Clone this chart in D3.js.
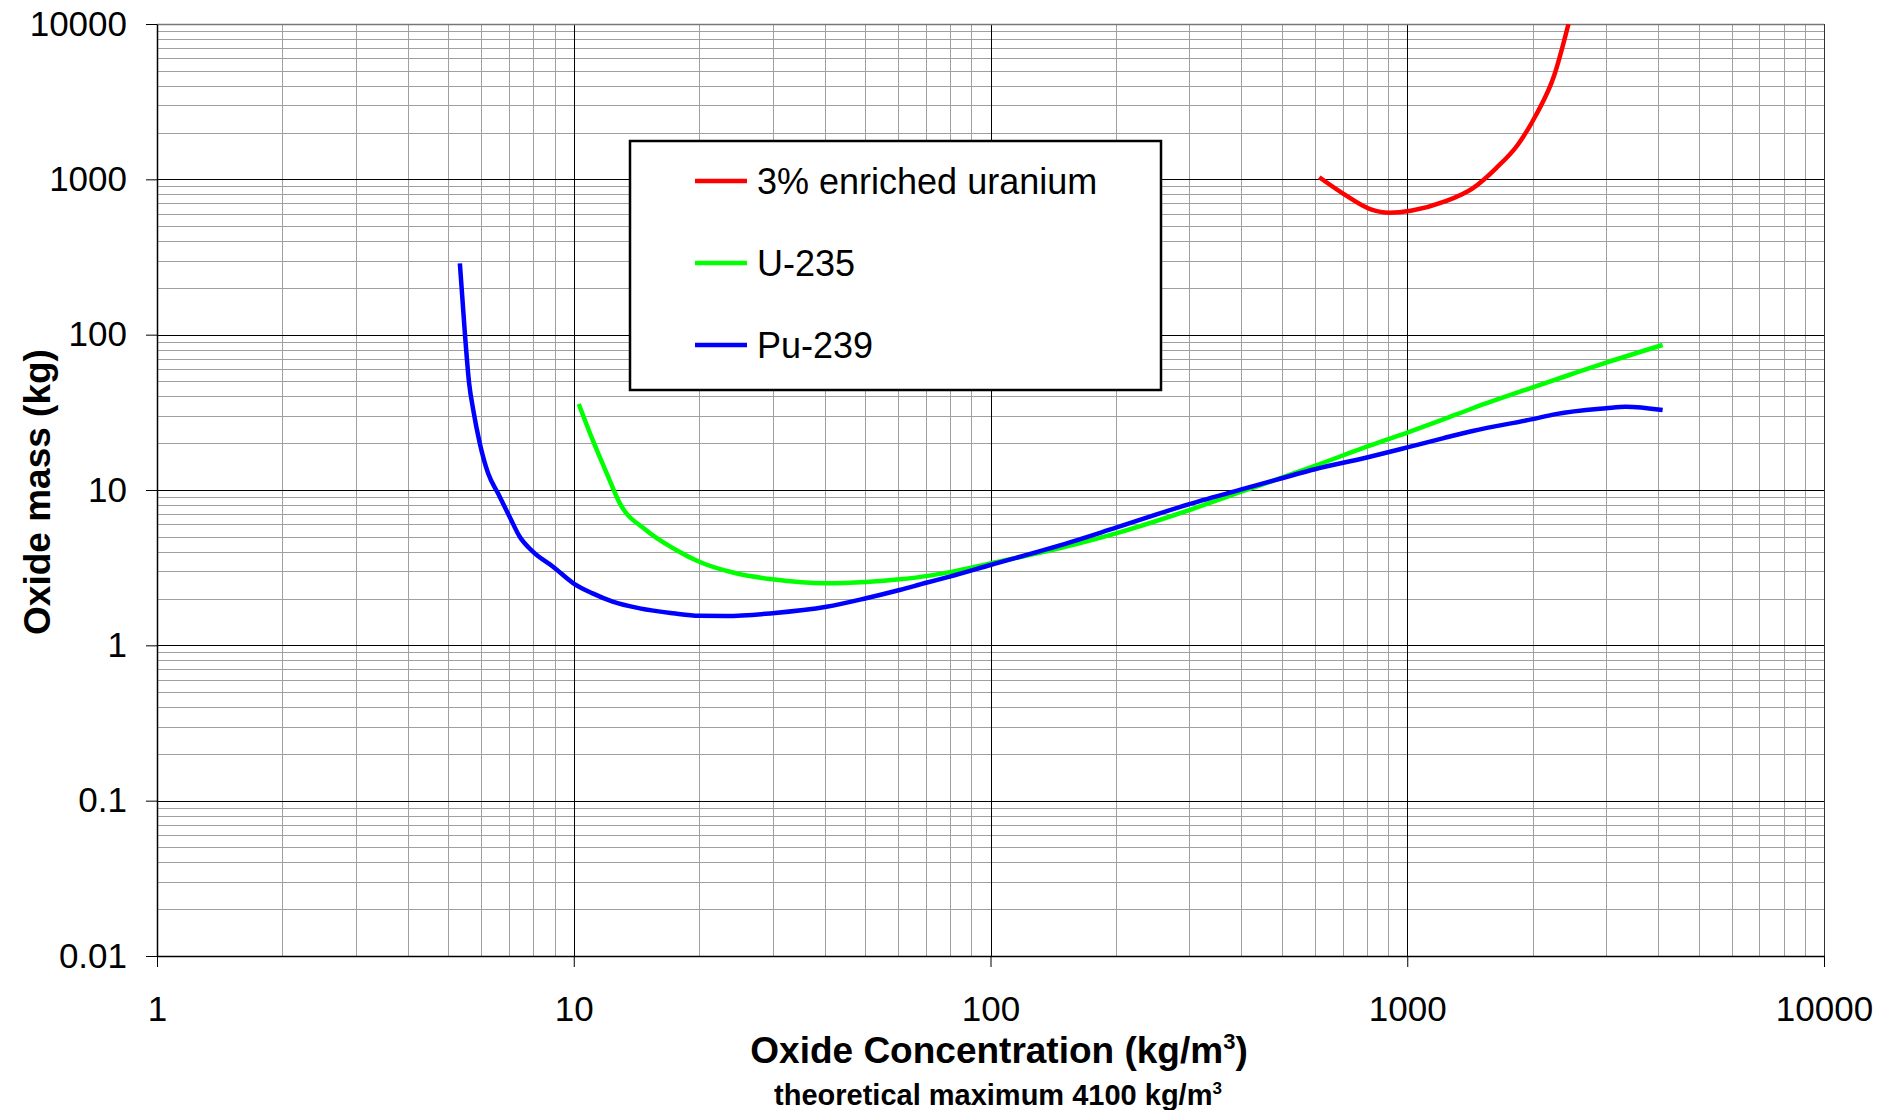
<!DOCTYPE html>
<html>
<head>
<meta charset="utf-8">
<script src="https://cdn.jsdelivr.net/npm/d3@7"></script>
<style>
  body { margin: 0; background: #fff; }
  text { font-family: "Liberation Sans", Arial, sans-serif; fill: #000; }
</style>
</head>
<body>
<svg id="chart" width="1895" height="1110"></svg>
<script>
// series: concentration (kg/m3) vs oxide mass (kg)
var seriesNames = ["3% enriched uranium", "U-235", "Pu-239"];
var seriesColors = ["#ff0000", "#00ff00", "#0000ff"];

var enrichedConc = [615, 700, 818, 905, 1020, 1227, 1435, 1633, 1840, 2037, 2254, 2437];
var enrichedMass = [1031, 813, 641, 610, 628, 718, 875, 1178, 1664, 2594, 4695, 10000];

var u235Conc = [10.28, 11.1, 12.0, 12.9, 14.9, 17.6, 20, 24.5, 30, 40.4, 50.3, 60.5, 70.1, 79.8, 100, 146, 200, 300, 400, 500, 600, 800, 1000, 1216, 1435, 2000, 2446, 3000, 4100];
var u235Mass = [35.8, 21, 12.8, 8.2, 5.52, 4.11, 3.45, 2.91, 2.66, 2.51, 2.56, 2.66, 2.79, 2.96, 3.37, 4.21, 5.26, 7.43, 9.75, 12.0, 14.3, 19.0, 23.4, 28.4, 33.6, 45.8, 55, 66, 85.8];

var pu239Conc = [5.33, 5.48, 5.61, 5.74, 5.95, 6.23, 6.58, 7.02, 7.42, 7.99, 8.92, 10, 11.1, 12.4, 14.4, 17.3, 20, 23.2, 30, 40.4, 50.3, 60.5, 70.1, 79.8, 100, 146, 200, 300, 400, 500, 600, 800, 1000, 1216, 1435, 2000, 2273, 3000, 3345, 4100];
var pu239Mass = [288, 102, 48.6, 32.7, 20.0, 12.8, 9.52, 6.7, 5.0, 4.0, 3.21, 2.5, 2.16, 1.91, 1.73, 1.61, 1.55, 1.545, 1.61, 1.77, 2.01, 2.27, 2.53, 2.77, 3.29, 4.38, 5.72, 8.12, 10.1, 11.9, 13.6, 16.2, 18.8, 21.5, 24.0, 28.6, 30.8, 33.6, 34.4, 32.7];

var xDomain = [1, 10000];
var yDomain = [0.01, 10000];
var xTickLabels = [1, 10, 100, 1000, 10000];
var yTickLabels = [0.01, 0.1, 1, 10, 100, 1000, 10000];

var margin = {left: 157, top: 24, right: 71, bottom: 154};
var width = 1895 - margin.left - margin.right,
    height = 1110 - margin.top - margin.bottom;

var svg = d3.select('#chart');
var g = svg.append('g').attr('transform', 'translate(' + margin.left + ',' + margin.top + ')');

var x = d3.scaleLog().domain(xDomain).range([0, width]);
var y = d3.scaleLog().domain(yDomain).range([height, 0]);

var isMajor = function(v){
    var l = Math.log10(v);
    return Math.abs(l - Math.round(l)) < 1e-6;
};

// minor grid first, majors on top
var xt = x.ticks(), yt = y.ticks();
g.append('g').selectAll('line')
    .data(xt.filter(function(d){ return !isMajor(d); }))
    .enter().append('line')
    .attr('x1', function(d){ return Math.round(x(d)) + 0.5; })
    .attr('x2', function(d){ return Math.round(x(d)) + 0.5; })
    .attr('y1', 0).attr('y2', height)
    .attr('stroke', '#a0a0a0');
g.append('g').selectAll('line')
    .data(yt.filter(function(d){ return !isMajor(d); }))
    .enter().append('line')
    .attr('y1', function(d){ return Math.round(y(d)) + 0.5; })
    .attr('y2', function(d){ return Math.round(y(d)) + 0.5; })
    .attr('x1', 0).attr('x2', width)
    .attr('stroke', '#a0a0a0');
g.append('g').selectAll('line')
    .data(xTickLabels)
    .enter().append('line')
    .attr('x1', function(d){ return Math.round(x(d)) + 0.5; })
    .attr('x2', function(d){ return Math.round(x(d)) + 0.5; })
    .attr('y1', 0).attr('y2', height)
    .attr('stroke', function(d, i){ return i == xTickLabels.length - 1 ? '#333' : '#000'; });
g.append('g').selectAll('line')
    .data(yTickLabels)
    .enter().append('line')
    .attr('y1', function(d){ return Math.round(y(d)) + 0.5; })
    .attr('y2', function(d){ return Math.round(y(d)) + 0.5; })
    .attr('x1', 0).attr('x2', width)
    .attr('stroke', function(d, i){ return i == yTickLabels.length - 1 ? '#777' : '#000'; })
    .attr('stroke-width', function(d, i){ return i == yTickLabels.length - 1 ? 1.5 : 1; });

// curves
var series = [
    {name: seriesNames[0], color: seriesColors[0], xs: enrichedConc, ys: enrichedMass},
    {name: seriesNames[1], color: seriesColors[1], xs: u235Conc, ys: u235Mass},
    {name: seriesNames[2], color: seriesColors[2], xs: pu239Conc, ys: pu239Mass}
];

svg.append('defs').append('clipPath').attr('id', 'plotClip')
    .append('rect').attr('x', 0).attr('y', 0).attr('width', width).attr('height', height);

var line = d3.line()
    .x(function(d){ return x(d[0]); })
    .y(function(d){ return y(d[1]); })
    .curve(d3.curveMonotoneX);

g.append('g').attr('clip-path', 'url(#plotClip)')
    .selectAll('path')
    .data(series)
    .enter().append('path')
    .attr('d', function(s){ return line(d3.zip(s.xs, s.ys)); })
    .attr('fill', 'none')
    .attr('stroke', function(s){ return s.color; })
    .attr('stroke-width', 4.5)
    .attr('stroke-linejoin', 'round');

// axes: only the decade ticks get marks and labels
var xAxis = d3.axisBottom(x).tickValues(xTickLabels).tickFormat(String)
    .tickSizeInner(11).tickSizeOuter(0).tickPadding(29);
var yAxis = d3.axisLeft(y).tickValues(yTickLabels).tickFormat(String)
    .tickSizeInner(11).tickSizeOuter(0).tickPadding(19);

var gx = g.append('g').attr('transform', 'translate(0,' + height + ')').call(xAxis);
var gy = g.append('g').call(yAxis);
[gx, gy].forEach(function(a){
    a.select('.domain').attr('stroke', '#000').attr('stroke-width', 1.5);
    a.selectAll('.tick line').attr('stroke', '#000');
    a.selectAll('.tick text').style('font-size', '35px').attr('fill', '#000');
});

// titles
var xTitle = svg.append('text')
    .attr('x', 999).attr('y', 1063)
    .attr('text-anchor', 'middle')
    .style('font-size', '37px').style('font-weight', 'bold');
xTitle.append('tspan').text('Oxide Concentration (kg/m');
xTitle.append('tspan').attr('dy', -14).style('font-size', '22px').text('3');
xTitle.append('tspan').attr('dy', 14).text(')');

var sub = svg.append('text')
    .attr('x', 998).attr('y', 1105)
    .attr('text-anchor', 'middle')
    .style('font-size', '29px').style('font-weight', 'bold');
sub.append('tspan').text('theoretical maximum 4100 kg/m');
sub.append('tspan').attr('dy', -11).style('font-size', '17px').text('3');

svg.append('text')
    .attr('transform', 'translate(50,492) rotate(-90)')
    .attr('text-anchor', 'middle')
    .style('font-size', '37px').style('font-weight', 'bold')
    .text('Oxide mass (kg)');

// legend box
var legend = svg.append('g').attr('transform', 'translate(630,141)');
legend.append('rect')
    .attr('width', 531).attr('height', 249)
    .attr('fill', '#fff').attr('stroke', '#000').attr('stroke-width', 2.5);
var items = legend.selectAll('g.item')
    .data(series)
    .enter().append('g')
    .attr('class', 'item')
    .attr('transform', function(d, i){ return 'translate(0,' + (40 + i * 82) + ')'; });
items.append('line')
    .attr('x1', 65).attr('x2', 117)
    .attr('stroke', function(d){ return d.color; })
    .attr('stroke-width', 4.5);
items.append('text')
    .attr('x', 127).attr('y', 13)
    .style('font-size', '36px')
    .text(function(d){ return d.name; });
</script>
</body>
</html>
